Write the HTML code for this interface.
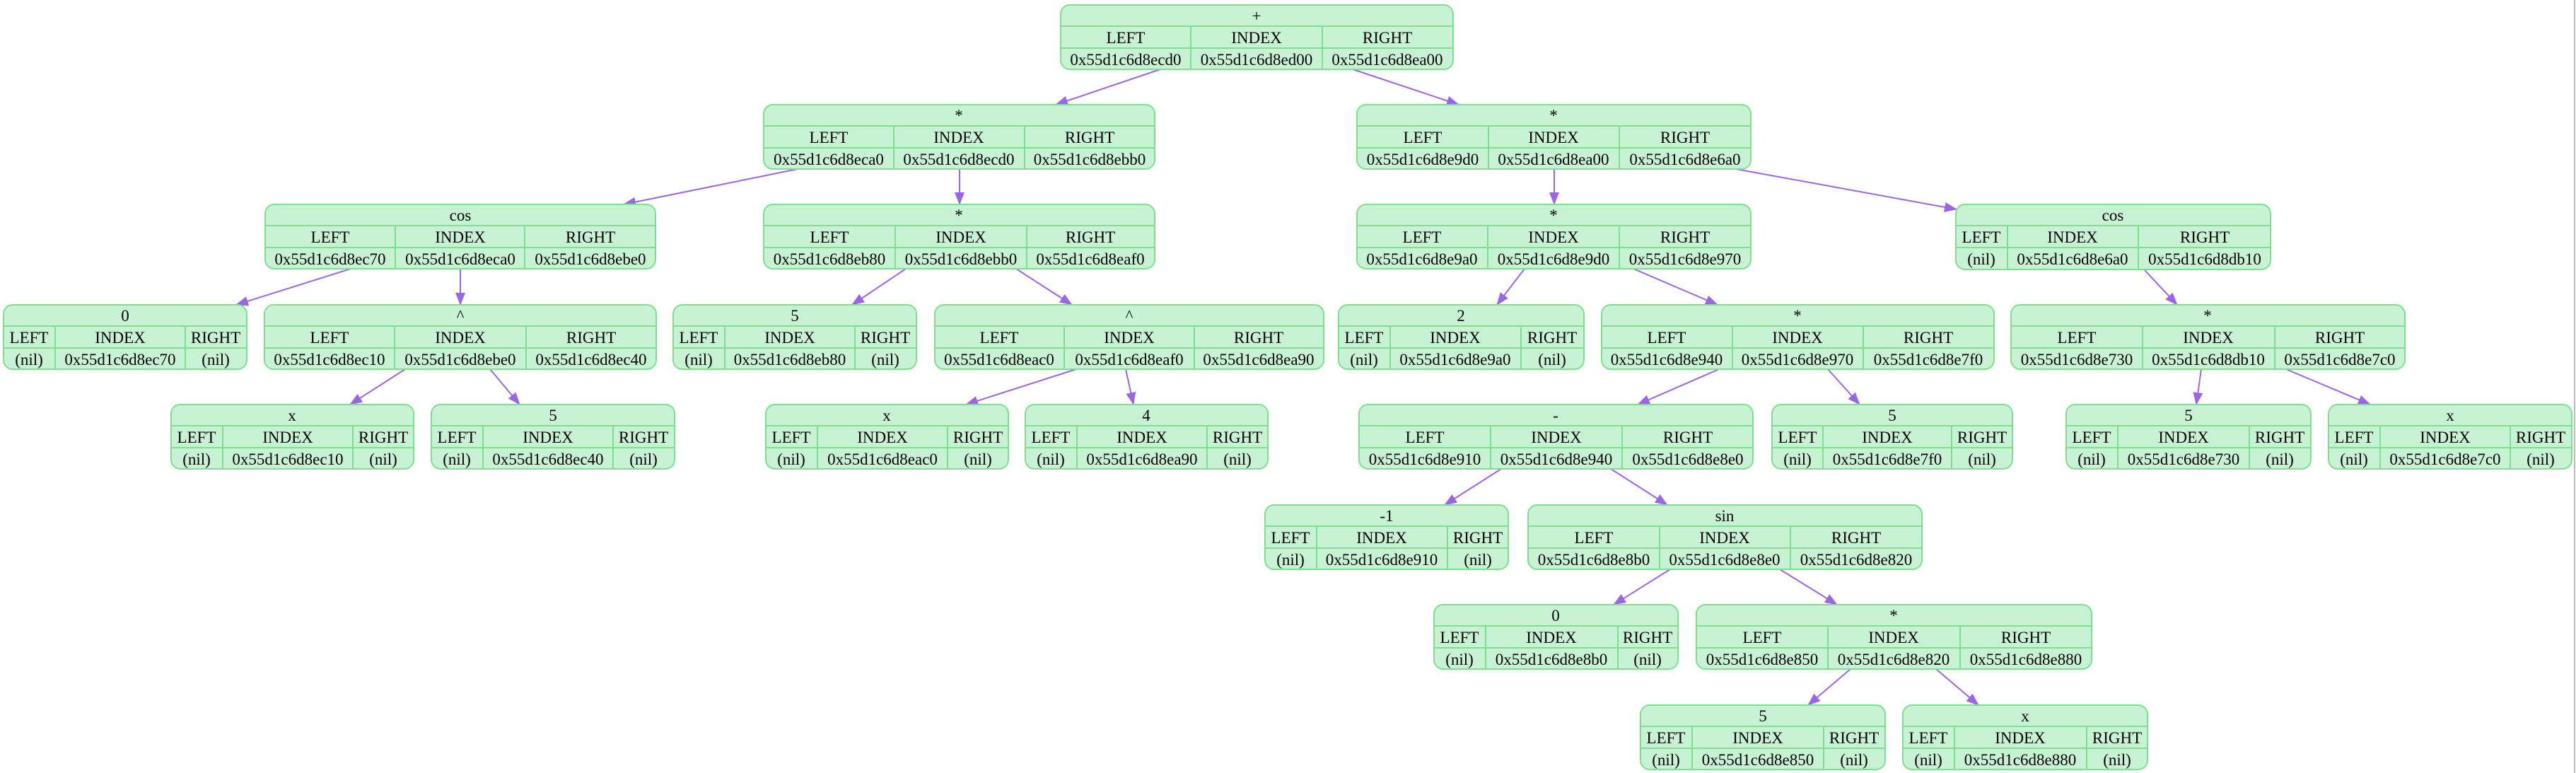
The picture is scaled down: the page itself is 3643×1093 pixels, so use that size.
<!DOCTYPE html>
<html><head><meta charset="utf-8"><style>
html,body{margin:0;padding:0;background:#fff}
svg{display:block}
text{font-family:"Liberation Serif",serif;font-size:23px;fill:#000;text-anchor:middle}
.b{fill:#c8f2d4;stroke:#7ee08f;stroke-width:2}
.l{stroke:#7ee08f;stroke-width:2}
.e{stroke:#9b66e6;stroke-width:2;fill:none}
</style></head><body>
<svg width="3643" height="1093" viewBox="0 0 3643 1093" xmlns="http://www.w3.org/2000/svg">
<defs><marker id="a" markerUnits="userSpaceOnUse" markerWidth="18" markerHeight="14" refX="17" refY="7" orient="auto"><path d="M0,0 L18,7 L0,14 z" fill="#9b66e6"/></marker></defs>
<line x1="3641" y1="0" x2="3641" y2="1093" stroke="#bbb" stroke-width="2"/>

<g class="e" marker-end="url(#a)">
<line x1="1641" y1="98" x2="1493" y2="148"/>
<line x1="1913" y1="98" x2="2063" y2="148"/>
<line x1="1128" y1="239" x2="882" y2="289"/>
<line x1="1357" y1="239" x2="1357" y2="289"/>
<line x1="2198" y1="239" x2="2198" y2="289"/>
<line x1="2455" y1="239" x2="2767" y2="296"/>
<line x1="496" y1="380" x2="334" y2="431"/>
<line x1="651" y1="380" x2="651" y2="431"/>
<line x1="1281" y1="380" x2="1205" y2="431"/>
<line x1="1437" y1="380" x2="1516" y2="431"/>
<line x1="2156" y1="380" x2="2117" y2="431"/>
<line x1="2310" y1="380" x2="2429" y2="431"/>
<line x1="3033" y1="382" x2="3079" y2="431"/>
<line x1="573" y1="522" x2="495" y2="572"/>
<line x1="693" y1="522" x2="735" y2="572"/>
<line x1="1522" y1="522" x2="1366" y2="572"/>
<line x1="1592" y1="522" x2="1603" y2="572"/>
<line x1="2431" y1="522" x2="2316" y2="572"/>
<line x1="2585" y1="522" x2="2630" y2="572"/>
<line x1="3113" y1="522" x2="3106" y2="572"/>
<line x1="3233" y1="522" x2="3352" y2="572"/>
<line x1="2123" y1="663" x2="2043" y2="714"/>
<line x1="2278" y1="663" x2="2358" y2="714"/>
<line x1="2362" y1="805" x2="2282" y2="855"/>
<line x1="2517" y1="805" x2="2598" y2="855"/>
<line x1="2617" y1="946" x2="2557" y2="997"/>
<line x1="2738" y1="946" x2="2798" y2="997"/>
</g>

<g transform="translate(1500,7)"><rect class="b" x="0" y="0" width="555" height="91" rx="13"/><line class="l" x1="0" y1="30" x2="555" y2="30"/><line class="l" x1="0" y1="61" x2="555" y2="61"/><line class="l" x1="184" y1="30" x2="184" y2="91"/><line class="l" x1="370" y1="30" x2="370" y2="91"/>
<text x="277" y="23">+</text><text x="92" y="54">LEFT</text><text x="277" y="54">INDEX</text><text x="462" y="54">RIGHT</text><text x="92" y="85">0x55d1c6d8ecd0</text><text x="277" y="85">0x55d1c6d8ed00</text><text x="462" y="85">0x55d1c6d8ea00</text></g>

<g transform="translate(1080,148)"><rect class="b" x="0" y="0" width="553" height="91" rx="13"/><line class="l" x1="0" y1="30" x2="553" y2="30"/><line class="l" x1="0" y1="61" x2="553" y2="61"/><line class="l" x1="184" y1="30" x2="184" y2="91"/><line class="l" x1="369" y1="30" x2="369" y2="91"/>
<text x="276" y="23">*</text><text x="92" y="54">LEFT</text><text x="276" y="54">INDEX</text><text x="461" y="54">RIGHT</text><text x="92" y="85">0x55d1c6d8eca0</text><text x="276" y="85">0x55d1c6d8ecd0</text><text x="461" y="85">0x55d1c6d8ebb0</text></g>
<g transform="translate(1919,148)"><rect class="b" x="0" y="0" width="557" height="91" rx="13"/><line class="l" x1="0" y1="30" x2="557" y2="30"/><line class="l" x1="0" y1="61" x2="557" y2="61"/><line class="l" x1="186" y1="30" x2="186" y2="91"/><line class="l" x1="371" y1="30" x2="371" y2="91"/>
<text x="278" y="23">*</text><text x="93" y="54">LEFT</text><text x="278" y="54">INDEX</text><text x="464" y="54">RIGHT</text><text x="93" y="85">0x55d1c6d8e9d0</text><text x="278" y="85">0x55d1c6d8ea00</text><text x="464" y="85">0x55d1c6d8e6a0</text></g>

<g transform="translate(375,289)"><rect class="b" x="0" y="0" width="552" height="91" rx="13"/><line class="l" x1="0" y1="30" x2="552" y2="30"/><line class="l" x1="0" y1="61" x2="552" y2="61"/><line class="l" x1="184" y1="30" x2="184" y2="91"/><line class="l" x1="367" y1="30" x2="367" y2="91"/>
<text x="276" y="23">cos</text><text x="92" y="54">LEFT</text><text x="276" y="54">INDEX</text><text x="460" y="54">RIGHT</text><text x="92" y="85">0x55d1c6d8ec70</text><text x="276" y="85">0x55d1c6d8eca0</text><text x="460" y="85">0x55d1c6d8ebe0</text></g>
<g transform="translate(1080,289)"><rect class="b" x="0" y="0" width="553" height="91" rx="13"/><line class="l" x1="0" y1="30" x2="553" y2="30"/><line class="l" x1="0" y1="61" x2="553" y2="61"/><line class="l" x1="186" y1="30" x2="186" y2="91"/><line class="l" x1="372" y1="30" x2="372" y2="91"/>
<text x="276" y="23">*</text><text x="93" y="54">LEFT</text><text x="279" y="54">INDEX</text><text x="462" y="54">RIGHT</text><text x="93" y="85">0x55d1c6d8eb80</text><text x="279" y="85">0x55d1c6d8ebb0</text><text x="462" y="85">0x55d1c6d8eaf0</text></g>
<g transform="translate(1919,289)"><rect class="b" x="0" y="0" width="557" height="91" rx="13"/><line class="l" x1="0" y1="30" x2="557" y2="30"/><line class="l" x1="0" y1="61" x2="557" y2="61"/><line class="l" x1="185" y1="30" x2="185" y2="91"/><line class="l" x1="371" y1="30" x2="371" y2="91"/>
<text x="278" y="23">*</text><text x="92" y="54">LEFT</text><text x="278" y="54">INDEX</text><text x="464" y="54">RIGHT</text><text x="92" y="85">0x55d1c6d8e9a0</text><text x="278" y="85">0x55d1c6d8e9d0</text><text x="464" y="85">0x55d1c6d8e970</text></g>
<g transform="translate(2766,289)"><rect class="b" x="0" y="0" width="445" height="92" rx="13"/><line class="l" x1="0" y1="30" x2="445" y2="30"/><line class="l" x1="0" y1="61" x2="445" y2="61"/><line class="l" x1="73" y1="30" x2="73" y2="92"/><line class="l" x1="258" y1="30" x2="258" y2="92"/>
<text x="222" y="23">cos</text><text x="36" y="54">LEFT</text><text x="165" y="54">INDEX</text><text x="352" y="54">RIGHT</text><text x="36" y="85">(nil)</text><text x="165" y="85">0x55d1c6d8e6a0</text><text x="352" y="85">0x55d1c6d8db10</text></g>

<g transform="translate(5,431)"><rect class="b" x="0" y="0" width="344" height="91" rx="13"/><line class="l" x1="0" y1="30" x2="344" y2="30"/><line class="l" x1="0" y1="61" x2="344" y2="61"/><line class="l" x1="73" y1="30" x2="73" y2="91"/><line class="l" x1="257" y1="30" x2="257" y2="91"/>
<text x="172" y="23">0</text><text x="36" y="54">LEFT</text><text x="165" y="54">INDEX</text><text x="300" y="54">RIGHT</text><text x="36" y="85">(nil)</text><text x="165" y="85">0x55d1c6d8ec70</text><text x="300" y="85">(nil)</text></g>
<g transform="translate(374,431)"><rect class="b" x="0" y="0" width="554" height="91" rx="13"/><line class="l" x1="0" y1="30" x2="554" y2="30"/><line class="l" x1="0" y1="61" x2="554" y2="61"/><line class="l" x1="184" y1="30" x2="184" y2="91"/><line class="l" x1="370" y1="30" x2="370" y2="91"/>
<text x="277" y="23">^</text><text x="92" y="54">LEFT</text><text x="277" y="54">INDEX</text><text x="462" y="54">RIGHT</text><text x="92" y="85">0x55d1c6d8ec10</text><text x="277" y="85">0x55d1c6d8ebe0</text><text x="462" y="85">0x55d1c6d8ec40</text></g>
<g transform="translate(952,431)"><rect class="b" x="0" y="0" width="344" height="91" rx="13"/><line class="l" x1="0" y1="30" x2="344" y2="30"/><line class="l" x1="0" y1="61" x2="344" y2="61"/><line class="l" x1="73" y1="30" x2="73" y2="91"/><line class="l" x1="257" y1="30" x2="257" y2="91"/>
<text x="172" y="23">5</text><text x="36" y="54">LEFT</text><text x="165" y="54">INDEX</text><text x="300" y="54">RIGHT</text><text x="36" y="85">(nil)</text><text x="165" y="85">0x55d1c6d8eb80</text><text x="300" y="85">(nil)</text></g>
<g transform="translate(1322,431)"><rect class="b" x="0" y="0" width="550" height="91" rx="13"/><line class="l" x1="0" y1="30" x2="550" y2="30"/><line class="l" x1="0" y1="61" x2="550" y2="61"/><line class="l" x1="183" y1="30" x2="183" y2="91"/><line class="l" x1="367" y1="30" x2="367" y2="91"/>
<text x="275" y="23">^</text><text x="91" y="54">LEFT</text><text x="275" y="54">INDEX</text><text x="458" y="54">RIGHT</text><text x="91" y="85">0x55d1c6d8eac0</text><text x="275" y="85">0x55d1c6d8eaf0</text><text x="458" y="85">0x55d1c6d8ea90</text></g>
<g transform="translate(1893,431)"><rect class="b" x="0" y="0" width="347" height="91" rx="13"/><line class="l" x1="0" y1="30" x2="347" y2="30"/><line class="l" x1="0" y1="61" x2="347" y2="61"/><line class="l" x1="73" y1="30" x2="73" y2="91"/><line class="l" x1="258" y1="30" x2="258" y2="91"/>
<text x="173" y="23">2</text><text x="36" y="54">LEFT</text><text x="165" y="54">INDEX</text><text x="302" y="54">RIGHT</text><text x="36" y="85">(nil)</text><text x="165" y="85">0x55d1c6d8e9a0</text><text x="302" y="85">(nil)</text></g>
<g transform="translate(2265,431)"><rect class="b" x="0" y="0" width="555" height="91" rx="13"/><line class="l" x1="0" y1="30" x2="555" y2="30"/><line class="l" x1="0" y1="61" x2="555" y2="61"/><line class="l" x1="185" y1="30" x2="185" y2="91"/><line class="l" x1="370" y1="30" x2="370" y2="91"/>
<text x="277" y="23">*</text><text x="92" y="54">LEFT</text><text x="277" y="54">INDEX</text><text x="462" y="54">RIGHT</text><text x="92" y="85">0x55d1c6d8e940</text><text x="277" y="85">0x55d1c6d8e970</text><text x="462" y="85">0x55d1c6d8e7f0</text></g>
<g transform="translate(2844,431)"><rect class="b" x="0" y="0" width="557" height="91" rx="13"/><line class="l" x1="0" y1="30" x2="557" y2="30"/><line class="l" x1="0" y1="61" x2="557" y2="61"/><line class="l" x1="186" y1="30" x2="186" y2="91"/><line class="l" x1="373" y1="30" x2="373" y2="91"/>
<text x="278" y="23">*</text><text x="93" y="54">LEFT</text><text x="279" y="54">INDEX</text><text x="465" y="54">RIGHT</text><text x="93" y="85">0x55d1c6d8e730</text><text x="279" y="85">0x55d1c6d8db10</text><text x="465" y="85">0x55d1c6d8e7c0</text></g>

<g transform="translate(242,572)"><rect class="b" x="0" y="0" width="343" height="91" rx="13"/><line class="l" x1="0" y1="30" x2="343" y2="30"/><line class="l" x1="0" y1="61" x2="343" y2="61"/><line class="l" x1="73" y1="30" x2="73" y2="91"/><line class="l" x1="257" y1="30" x2="257" y2="91"/>
<text x="171" y="23">x</text><text x="36" y="54">LEFT</text><text x="165" y="54">INDEX</text><text x="300" y="54">RIGHT</text><text x="36" y="85">(nil)</text><text x="165" y="85">0x55d1c6d8ec10</text><text x="300" y="85">(nil)</text></g>
<g transform="translate(610,572)"><rect class="b" x="0" y="0" width="344" height="91" rx="13"/><line class="l" x1="0" y1="30" x2="344" y2="30"/><line class="l" x1="0" y1="61" x2="344" y2="61"/><line class="l" x1="73" y1="30" x2="73" y2="91"/><line class="l" x1="257" y1="30" x2="257" y2="91"/>
<text x="172" y="23">5</text><text x="36" y="54">LEFT</text><text x="165" y="54">INDEX</text><text x="300" y="54">RIGHT</text><text x="36" y="85">(nil)</text><text x="165" y="85">0x55d1c6d8ec40</text><text x="300" y="85">(nil)</text></g>
<g transform="translate(1083,572)"><rect class="b" x="0" y="0" width="343" height="91" rx="13"/><line class="l" x1="0" y1="30" x2="343" y2="30"/><line class="l" x1="0" y1="61" x2="343" y2="61"/><line class="l" x1="73" y1="30" x2="73" y2="91"/><line class="l" x1="257" y1="30" x2="257" y2="91"/>
<text x="171" y="23">x</text><text x="36" y="54">LEFT</text><text x="165" y="54">INDEX</text><text x="300" y="54">RIGHT</text><text x="36" y="85">(nil)</text><text x="165" y="85">0x55d1c6d8eac0</text><text x="300" y="85">(nil)</text></g>
<g transform="translate(1450,572)"><rect class="b" x="0" y="0" width="343" height="91" rx="13"/><line class="l" x1="0" y1="30" x2="343" y2="30"/><line class="l" x1="0" y1="61" x2="343" y2="61"/><line class="l" x1="73" y1="30" x2="73" y2="91"/><line class="l" x1="257" y1="30" x2="257" y2="91"/>
<text x="171" y="23">4</text><text x="36" y="54">LEFT</text><text x="165" y="54">INDEX</text><text x="300" y="54">RIGHT</text><text x="36" y="85">(nil)</text><text x="165" y="85">0x55d1c6d8ea90</text><text x="300" y="85">(nil)</text></g>
<g transform="translate(1922,572)"><rect class="b" x="0" y="0" width="557" height="91" rx="13"/><line class="l" x1="0" y1="30" x2="557" y2="30"/><line class="l" x1="0" y1="61" x2="557" y2="61"/><line class="l" x1="186" y1="30" x2="186" y2="91"/><line class="l" x1="372" y1="30" x2="372" y2="91"/>
<text x="278" y="23">-</text><text x="93" y="54">LEFT</text><text x="279" y="54">INDEX</text><text x="465" y="54">RIGHT</text><text x="93" y="85">0x55d1c6d8e910</text><text x="279" y="85">0x55d1c6d8e940</text><text x="465" y="85">0x55d1c6d8e8e0</text></g>
<g transform="translate(2506,572)"><rect class="b" x="0" y="0" width="340" height="91" rx="13"/><line class="l" x1="0" y1="30" x2="340" y2="30"/><line class="l" x1="0" y1="61" x2="340" y2="61"/><line class="l" x1="72" y1="30" x2="72" y2="91"/><line class="l" x1="254" y1="30" x2="254" y2="91"/>
<text x="170" y="23">5</text><text x="36" y="54">LEFT</text><text x="163" y="54">INDEX</text><text x="297" y="54">RIGHT</text><text x="36" y="85">(nil)</text><text x="163" y="85">0x55d1c6d8e7f0</text><text x="297" y="85">(nil)</text></g>
<g transform="translate(2922,572)"><rect class="b" x="0" y="0" width="346" height="91" rx="13"/><line class="l" x1="0" y1="30" x2="346" y2="30"/><line class="l" x1="0" y1="61" x2="346" y2="61"/><line class="l" x1="73" y1="30" x2="73" y2="91"/><line class="l" x1="259" y1="30" x2="259" y2="91"/>
<text x="173" y="23">5</text><text x="36" y="54">LEFT</text><text x="166" y="54">INDEX</text><text x="302" y="54">RIGHT</text><text x="36" y="85">(nil)</text><text x="166" y="85">0x55d1c6d8e730</text><text x="302" y="85">(nil)</text></g>
<g transform="translate(3293,572)"><rect class="b" x="0" y="0" width="344" height="91" rx="13"/><line class="l" x1="0" y1="30" x2="344" y2="30"/><line class="l" x1="0" y1="61" x2="344" y2="61"/><line class="l" x1="73" y1="30" x2="73" y2="91"/><line class="l" x1="257" y1="30" x2="257" y2="91"/>
<text x="172" y="23">x</text><text x="36" y="54">LEFT</text><text x="165" y="54">INDEX</text><text x="300" y="54">RIGHT</text><text x="36" y="85">(nil)</text><text x="165" y="85">0x55d1c6d8e7c0</text><text x="300" y="85">(nil)</text></g>

<g transform="translate(1789,714)"><rect class="b" x="0" y="0" width="344" height="91" rx="13"/><line class="l" x1="0" y1="30" x2="344" y2="30"/><line class="l" x1="0" y1="61" x2="344" y2="61"/><line class="l" x1="73" y1="30" x2="73" y2="91"/><line class="l" x1="258" y1="30" x2="258" y2="91"/>
<text x="172" y="23">-1</text><text x="36" y="54">LEFT</text><text x="165" y="54">INDEX</text><text x="301" y="54">RIGHT</text><text x="36" y="85">(nil)</text><text x="165" y="85">0x55d1c6d8e910</text><text x="301" y="85">(nil)</text></g>
<g transform="translate(2161,714)"><rect class="b" x="0" y="0" width="557" height="91" rx="13"/><line class="l" x1="0" y1="30" x2="557" y2="30"/><line class="l" x1="0" y1="61" x2="557" y2="61"/><line class="l" x1="186" y1="30" x2="186" y2="91"/><line class="l" x1="371" y1="30" x2="371" y2="91"/>
<text x="278" y="23">sin</text><text x="93" y="54">LEFT</text><text x="278" y="54">INDEX</text><text x="464" y="54">RIGHT</text><text x="93" y="85">0x55d1c6d8e8b0</text><text x="278" y="85">0x55d1c6d8e8e0</text><text x="464" y="85">0x55d1c6d8e820</text></g>

<g transform="translate(2028,855)"><rect class="b" x="0" y="0" width="345" height="91" rx="13"/><line class="l" x1="0" y1="30" x2="345" y2="30"/><line class="l" x1="0" y1="61" x2="345" y2="61"/><line class="l" x1="73" y1="30" x2="73" y2="91"/><line class="l" x1="260" y1="30" x2="260" y2="91"/>
<text x="172" y="23">0</text><text x="36" y="54">LEFT</text><text x="166" y="54">INDEX</text><text x="302" y="54">RIGHT</text><text x="36" y="85">(nil)</text><text x="166" y="85">0x55d1c6d8e8b0</text><text x="302" y="85">(nil)</text></g>
<g transform="translate(2399,855)"><rect class="b" x="0" y="0" width="559" height="91" rx="13"/><line class="l" x1="0" y1="30" x2="559" y2="30"/><line class="l" x1="0" y1="61" x2="559" y2="61"/><line class="l" x1="186" y1="30" x2="186" y2="91"/><line class="l" x1="373" y1="30" x2="373" y2="91"/>
<text x="279" y="23">*</text><text x="93" y="54">LEFT</text><text x="279" y="54">INDEX</text><text x="466" y="54">RIGHT</text><text x="93" y="85">0x55d1c6d8e850</text><text x="279" y="85">0x55d1c6d8e820</text><text x="466" y="85">0x55d1c6d8e880</text></g>

<g transform="translate(2320,997)"><rect class="b" x="0" y="0" width="346" height="91" rx="13"/><line class="l" x1="0" y1="30" x2="346" y2="30"/><line class="l" x1="0" y1="61" x2="346" y2="61"/><line class="l" x1="73" y1="30" x2="73" y2="91"/><line class="l" x1="259" y1="30" x2="259" y2="91"/>
<text x="173" y="23">5</text><text x="36" y="54">LEFT</text><text x="166" y="54">INDEX</text><text x="302" y="54">RIGHT</text><text x="36" y="85">(nil)</text><text x="166" y="85">0x55d1c6d8e850</text><text x="302" y="85">(nil)</text></g>
<g transform="translate(2691,997)"><rect class="b" x="0" y="0" width="346" height="91" rx="13"/><line class="l" x1="0" y1="30" x2="346" y2="30"/><line class="l" x1="0" y1="61" x2="346" y2="61"/><line class="l" x1="73" y1="30" x2="73" y2="91"/><line class="l" x1="260" y1="30" x2="260" y2="91"/>
<text x="173" y="23">x</text><text x="36" y="54">LEFT</text><text x="166" y="54">INDEX</text><text x="303" y="54">RIGHT</text><text x="36" y="85">(nil)</text><text x="166" y="85">0x55d1c6d8e880</text><text x="303" y="85">(nil)</text></g>
</svg>
</body></html>
